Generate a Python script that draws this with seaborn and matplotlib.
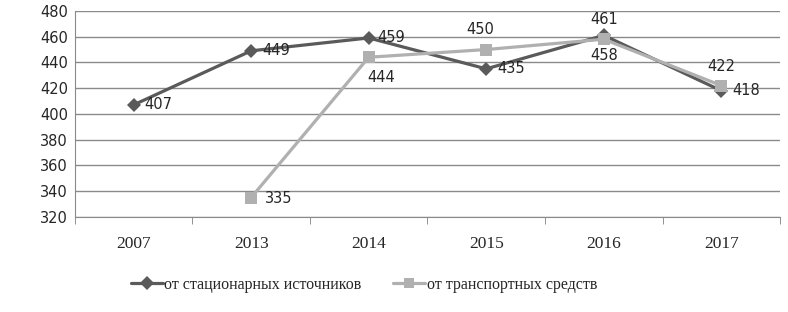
import numpy as np
import pandas as pd
import seaborn as sns
import matplotlib.pyplot as plt

years = ['2007', '2013', '2014', '2015', '2016', '2017']
stationary = [407, 449, 459, 435, 461, 418]
transport = [np.nan, 335, 444, 450, 458, 422]
series_names = ['от стационарных источников', 'от транспортных средств']

df = pd.DataFrame({
    'year': years * 2,
    'value': stationary + transport,
    'series': [series_names[0]] * 6 + [series_names[1]] * 6,
})
df['pos'] = list(range(6)) * 2

sns.set_style('white')
plt.rcParams['font.family'] = ['Liberation Serif', 'DejaVu Serif']

fig = plt.figure(figsize=(7.88, 3.12), dpi=100)
ax = fig.add_axes([0.095, 0.305, 0.895, 0.66])

palette = {series_names[0]: '#5a5a5a', series_names[1]: '#b0b0b0'}
markers = {series_names[0]: 'D', series_names[1]: 's'}
sns.lineplot(data=df.dropna(), x='pos', y='value', hue='series', style='series',
             markers=markers, dashes=False, palette=palette, linewidth=2.3,
             markersize=7, markeredgewidth=0, ax=ax, legend=True, zorder=3)

# light series drawn on top, as in reference
for line in ax.lines:
    if line.get_color() == '#b0b0b0':
        line.set_zorder(4)
ax.lines[1].set_markersize(9)

# data labels
lab_font = dict(fontsize=10.5, family=['DejaVu Sans'], zorder=6)
st_off = [(8, 0, 'left', 'center'), (8, 0, 'left', 'center'), (6, 0, 'left', 'center'),
          (8, 0, 'left', 'center'), (0, 6, 'center', 'bottom'), (8, 0, 'left', 'center')]
tr_off = [None, (10, -1, 'left', 'center'), (-1, -9, 'left', 'top'),
          (-4, 9, 'center', 'bottom'), (0, -6, 'center', 'top'), (0, 8, 'center', 'bottom')]
for i, v in enumerate(stationary):
    dx, dy, ha, va = st_off[i]
    ax.annotate(str(v), (i, v), xytext=(dx, dy), textcoords='offset points',
                ha=ha, va=va, **lab_font)
for i, v in enumerate(transport):
    if np.isnan(v):
        continue
    dx, dy, ha, va = tr_off[i]
    ax.annotate(str(int(v)), (i, v), xytext=(dx, dy), textcoords='offset points',
                ha=ha, va=va, **lab_font)

ax.set_ylim(320, 480)
ax.set_yticks(range(320, 481, 20))
ax.set_xlim(-0.5, 5.5)
ax.set_xticks(range(6))
ax.set_xticklabels(years, fontsize=12.5)
ax.set_xticks(np.arange(-0.5, 6, 1), minor=True)
ax.tick_params(axis='x', which='major', length=0, pad=14)
ax.tick_params(axis='x', which='minor', length=5, color='#808080', direction='out', bottom=True)
ax.tick_params(axis='y', length=0, labelsize=10.5, pad=5)
for lbl in ax.get_yticklabels():
    lbl.set_family(['DejaVu Sans'])
ax.yaxis.grid(True, color='#8a8a8a', linewidth=1)
ax.set_axisbelow(True)
for side in ['top', 'right']:
    ax.spines[side].set_visible(False)
ax.spines['left'].set_color('#8a8a8a')
ax.spines['bottom'].set_color('#8a8a8a')
ax.set_xlabel('')
ax.set_ylabel('')

leg = ax.legend(loc='upper center', bbox_to_anchor=(0.41, -0.22), ncol=2, frameon=False,
                fontsize=11.5, handlelength=2, columnspacing=2, handletextpad=0.1)

fig.savefig('out.png', dpi=100)
